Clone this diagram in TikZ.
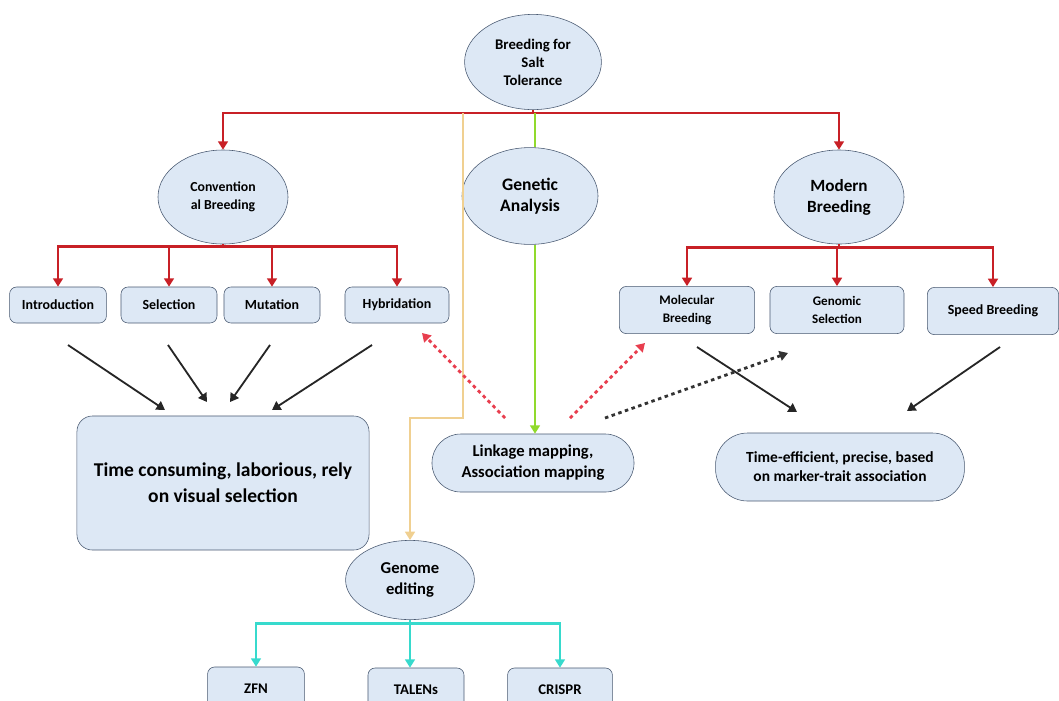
\documentclass[tikz,border=0pt]{standalone}
\usepackage{fontspec}
\setmainfont{Carlito}
\usetikzlibrary{shapes.geometric,arrows.meta,calc}
\definecolor{nodefill}{RGB}{221,232,245}
\definecolor{nodeborder}{RGB}{72,88,112}
\definecolor{treered}{RGB}{200,32,38}
\definecolor{dashred}{RGB}{232,62,78}
\definecolor{geneline}{RGB}{145,218,45}
\definecolor{editline}{RGB}{240,208,145}
\definecolor{cyanline}{RGB}{55,218,205}
\tikzset{
  every picture/.style={
    x=0.025cm, y=-0.025cm,
    >={Triangle[width=7pt, length=6pt]}
  },
  oval/.style={
    ellipse, draw=nodeborder, fill=nodefill,
    inner sep=0pt, align=center, font=\bfseries
  },
  plainbox/.style={
    rectangle, rounded corners=5pt, draw=nodeborder, fill=nodefill,
    inner sep=0pt, align=center, font=\bfseries\fontsize{9.9}{12.8}\selectfont
  },
  pill/.style={
    rectangle, draw=nodeborder, fill=nodefill,
    inner sep=0pt, align=center, font=\bfseries
  },
  red tree/.style={draw=treered, line width=2pt},
  blk arrow/.style={draw=black!85, line width=1.3pt, ->},
  dot arrow/.style={line width=2pt, dash pattern=on 2.5pt off 2.5pt, ->}
}
\begin{document}
\begin{tikzpicture}
      \useasboundingbox (0,0) rectangle (1059,700);
      % ellipses
      \node[oval, minimum width=3.42cm, minimum height=2.38cm, font=\bfseries\fontsize{10.5}{12.8}\selectfont]
        (top) at (533,62) {Breeding for\\Salt\\Tolerance};
      \node[oval, minimum width=3.25cm, minimum height=2.35cm, font=\bfseries\fontsize{9.8}{12.8}\selectfont]
        (conv) at (223,197) {Convention\\al Breeding};
      \node[oval, minimum width=3.4cm, minimum height=2.42cm, font=\bfseries\fontsize{12.5}{15}\selectfont]
        (gen) at (530,196) {Genetic\\Analysis};
      \node[oval, minimum width=3.25cm, minimum height=2.35cm, font=\bfseries\fontsize{12.2}{15}\selectfont]
        (modern) at (839,197) {Modern\\Breeding};
      \node[oval, minimum width=3.22cm, minimum height=1.98cm, font=\bfseries\fontsize{11.8}{15}\selectfont]
        (edit) at (410,580) {Genome\\editing};
      % boxes
      \node[plainbox, minimum width=2.42cm, minimum height=0.9cm] (intro) at (58,305) {Introduction};
      \node[plainbox, minimum width=2.4cm, minimum height=0.9cm] (sel) at (169,305) {Selection};
      \node[plainbox, minimum width=2.4cm, minimum height=0.9cm] (mut) at (272,305) {Mutation};
      \node[plainbox, minimum width=2.6cm, minimum height=0.9cm] (hyb) at (397,305) {Hybridation};
      \node[plainbox, minimum width=3.38cm, minimum height=1.18cm, font=\bfseries\fontsize{9.3}{12.8}\selectfont]
        (mol) at (687,310) {Molecular\\Breeding};
      \node[plainbox, minimum width=3.35cm, minimum height=1.18cm, font=\bfseries\fontsize{9.3}{12.8}\selectfont]
        (gsel) at (837,310) {Genomic\\Selection};
      \node[plainbox, minimum width=3.28cm, minimum height=1.18cm] (speed) at (993,311) {Speed Breeding};
      \node[plainbox, minimum width=2.42cm, minimum height=1.1cm, font=\bfseries\fontsize{10.5}{12}\selectfont]
        (zfn) at (256,689) {ZFN};
      \node[plainbox, minimum width=2.4cm, minimum height=1.1cm, font=\bfseries\fontsize{10.5}{12}\selectfont]
        (talen) at (416,690) {TALENs};
      \node[plainbox, minimum width=2.62cm, minimum height=1.1cm, font=\bfseries\fontsize{10.5}{12}\selectfont]
        (crispr) at (560,690) {CRISPR};
      % results
      \node[plainbox, rounded corners=11pt, minimum width=7.3cm, minimum height=3.35cm,
        font=\bfseries\fontsize{13.9}{18.4}\selectfont] (slow) at (223,483)
        {Time consuming, laborious, rely\\on visual selection};
      \node[pill, rounded corners=0.72cm, minimum width=5.05cm, minimum height=1.45cm,
        font=\bfseries\fontsize{11.8}{15}\selectfont] (link) at (533,463)
        {Linkage mapping,\\Association mapping};
      \node[pill, rounded corners=0.8cm, minimum width=6.22cm, minimum height=1.7cm,
        font=\bfseries\fontsize{11}{13.5}\selectfont] (fast) at (840,467)
        {Time-efficient, precise, based\\on marker-trait association};
      % red tree
      \coordinate (bar) at (533,113);
      \draw[red tree] (top.south) -- (bar);
      \draw[red tree, ->] (bar) -| (conv.north);
      \draw[red tree, ->] (bar) -| (modern.north);
      \coordinate (cbar) at ($(conv.south)+(0,2)$);
      \draw[red tree] (conv.south) -- (cbar);
      \draw[red tree, ->] (cbar) -| (intro.north);
      \draw[red tree, ->] (cbar) -| (sel.north);
      \draw[red tree, ->] (cbar) -| (mut.north);
      \draw[red tree, ->] (cbar) -| (hyb.north);
      \coordinate (mbar) at ($(modern.south)+(0,3)$);
      \draw[red tree] (modern.south) -- (mbar);
      \draw[red tree, ->] (mbar) -| (mol.north);
      \draw[red tree, ->] (mbar) -| (gsel.north);
      \draw[red tree, ->] (mbar) -| (speed.north);
      % genetic analysis and genome editing lines
      \draw[geneline, line width=1.8pt] (bar -| 535,0) -- (gen.north -| 535,0);
      \draw[geneline, line width=1.8pt, ->] (gen.south -| 535,0) -- (link.north -| 535,0);
      \coordinate (ebend) at (463,418);
      \draw[editline, line width=1.5pt, ->] (bar -| ebend) -- (ebend) -| (edit.north);
      % cyan tree
      \coordinate (ebar) at ($(edit.south)+(0,4)$);
      \draw[cyanline, line width=2pt] (edit.south) -- (ebar);
      \draw[cyanline, line width=2pt, ->] (ebar) -| (zfn.north);
      \draw[cyanline, line width=2pt, ->] (ebar) -| (talen.north -| edit.south);
      \draw[cyanline, line width=2pt, ->] (ebar) -| (crispr.north);
      % converging arrows
      \coordinate (s1) at (68,345);  \coordinate (e1) at (165,410);
      \coordinate (s2) at (168,345); \coordinate (e2) at (207,402);
      \coordinate (s3) at (270,345); \coordinate (e3) at (230,402);
      \coordinate (s4) at (372,345); \coordinate (e4) at (272,410);
      \draw[blk arrow] (s1) -- (e1);
      \draw[blk arrow] (s2) -- (e2);
      \draw[blk arrow] (s3) -- (e3);
      \draw[blk arrow] (s4) -- (e4);
      \coordinate (s5) at (697,347); \coordinate (e5) at (797,412);
      \coordinate (s6) at (1000,347); \coordinate (e6) at (907,411);
      \draw[blk arrow] (s5) -- (e5);
      \draw[blk arrow] (s6) -- (e6);
      % dotted links from mapping
      \coordinate (d1) at (505,418); \coordinate (h1) at (422,333);
      \coordinate (d2) at (570,418); \coordinate (h2) at (645,343);
      \coordinate (d3) at (605,418); \coordinate (h3) at (788,353);
      \draw[dot arrow, dashred] (d1) -- (h1);
      \draw[dot arrow, dashred] (d2) -- (h2);
      \draw[dot arrow, black!80] (d3) -- (h3);
\end{tikzpicture}
\end{document}
